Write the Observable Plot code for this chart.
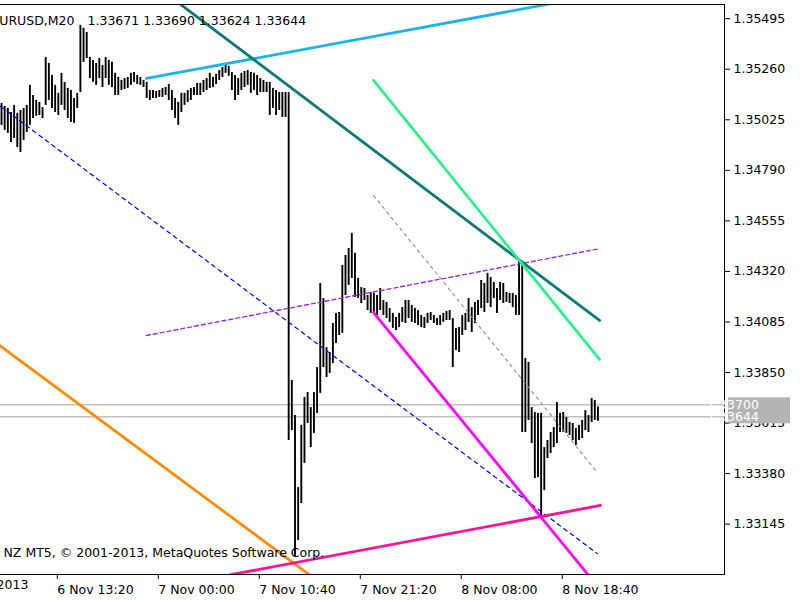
<!DOCTYPE html>
<html><head><meta charset="utf-8">
<script src="https://cdn.jsdelivr.net/npm/d3@7"></script>
<script src="https://cdn.jsdelivr.net/npm/@observablehq/plot@0.6"></script>
<style>body{margin:0;background:#fff;overflow:hidden} svg{display:block}</style>
</head><body><div id="chart"></div><script>
const symbol = "EURUSD,M20";
const lastOHLC = ["1.33671", "1.33690", "1.33624", "1.33644"];
const copyright = "NZ MT5, © 2001-2013, MetaQuotes Software Corp.";

// 20-minute bars, index 0 = 6 Nov 2013 07:20
const highs = [
1.35101,1.35087,1.35078,1.35059,1.35092,1.35055,1.35068,1.35078,1.35092,1.35185,
1.35138,1.35115,1.35106,1.35082,1.35315,1.35287,1.35231,1.35185,1.35148,1.35241,
1.35199,1.35171,1.35161,1.35124,1.35148,1.35464,1.35450,1.35431,1.35315,1.35301,
1.35287,1.35310,1.35278,1.35315,1.35301,1.35292,1.35241,1.35222,1.35208,1.35217,
1.35222,1.35241,1.35245,1.35231,1.35222,1.35208,1.35199,1.35161,1.35161,1.35157,
1.35161,1.35171,1.35175,1.35189,1.35161,1.35124,1.35106,1.35148,1.35148,1.35161,
1.35171,1.35175,1.35194,1.35194,1.35208,1.35217,1.35241,1.35222,1.35236,1.35254,
1.35268,1.35287,1.35273,1.35245,1.35231,1.35217,1.35241,1.35250,1.35254,1.35245,
1.35241,1.35231,1.35217,1.35208,1.35199,1.35199,1.35171,1.35161,1.35152,1.35152,
1.35152,1.35152,1.33813,1.33650,1.33315,1.33604,1.33734,1.33757,1.33687,1.33757,
1.33873,1.34264,1.34194,1.33966,1.33943,1.34078,1.34125,1.34129,1.34348,1.34394,
1.34427,1.34497,1.34404,1.34287,1.34245,1.34241,1.34208,1.34222,1.34218,1.34208,
1.34241,1.34185,1.34176,1.34148,1.34125,1.34106,1.34125,1.34152,1.34185,1.34185,
1.34162,1.34148,1.34138,1.34115,1.34106,1.34125,1.34129,1.34115,1.34101,1.34115,
1.34125,1.34134,1.34138,1.34101,1.34055,1.34059,1.34115,1.34125,1.34194,1.34152,
1.34176,1.34185,1.34278,1.34264,1.34311,1.34292,1.34269,1.34241,1.34269,1.34264,
1.34222,1.34218,1.34218,1.34208,1.34371,1.34348,1.33915,1.33897,1.33687,1.33664,
1.33660,1.33660,1.33501,1.33534,1.33571,1.33594,1.33711,1.33660,1.33664,1.33641,
1.33618,1.33613,1.33590,1.33604,1.33627,1.33673,1.33650,1.33729,1.33720,1.33690];
const lows = [
1.34999,1.34975,1.34962,1.34920,1.34938,1.34896,1.34873,1.34929,1.34966,1.34999,
1.35031,1.35041,1.35045,1.35031,1.35092,1.35115,1.35078,1.35059,1.35045,1.35092,
1.35068,1.35031,1.35013,1.35008,1.35078,1.35152,1.35292,1.35310,1.35217,1.35199,
1.35185,1.35217,1.35175,1.35217,1.35185,1.35175,1.35138,1.35138,1.35161,1.35166,
1.35171,1.35185,1.35199,1.35189,1.35185,1.35175,1.35124,1.35115,1.35124,1.35124,
1.35129,1.35129,1.35138,1.35115,1.35068,1.35031,1.34999,1.35059,1.35092,1.35106,
1.35115,1.35138,1.35138,1.35138,1.35152,1.35161,1.35171,1.35175,1.35189,1.35208,
1.35222,1.35241,1.35227,1.35161,1.35115,1.35138,1.35161,1.35175,1.35185,1.35148,
1.35161,1.35138,1.35152,1.35152,1.35152,1.35045,1.35078,1.35045,1.35068,1.35036,
1.35036,1.33534,1.33580,1.32990,1.33069,1.33241,1.33427,1.33613,1.33501,1.33567,
1.33660,1.33753,1.33873,1.33827,1.33846,1.33892,1.33985,1.34022,1.34032,1.34208,
1.34255,1.34287,1.34199,1.34194,1.34171,1.34185,1.34138,1.34125,1.34129,1.34115,
1.34138,1.34115,1.34101,1.34083,1.34055,1.34045,1.34059,1.34083,1.34078,1.34101,
1.34083,1.34078,1.34069,1.34059,1.34055,1.34078,1.34092,1.34078,1.34069,1.34069,
1.34083,1.34092,1.34092,1.33873,1.33952,1.33943,1.34022,1.34045,1.34083,1.34036,
1.34078,1.34115,1.34148,1.34129,1.34171,1.34152,1.34194,1.34125,1.34185,1.34171,
1.34176,1.34171,1.34152,1.34115,1.34115,1.33571,1.33571,1.33627,1.33520,1.33357,
1.33362,1.33176,1.33301,1.33450,1.33474,1.33501,1.33520,1.33571,1.33571,1.33567,
1.33557,1.33534,1.33511,1.33534,1.33543,1.33580,1.33571,1.33618,1.33627,1.33624];

const priceTicks = [1.35495,1.35260,1.35025,1.34790,1.34555,1.34320,1.34085,1.33850,1.33615,1.33380,1.33145];
const timeTickIndex = [-14, 18, 50, 82, 114, 146, 178];
const timeLabels = ["6 Nov 2013","6 Nov 13:20","7 Nov 00:00","7 Nov 10:40","7 Nov 21:20","8 Nov 08:00","8 Nov 18:40"];
const priceLines = [1.33700, 1.33644];

// trend lines: [bar index, price]
const lineLightBlue = [[45.9, 1.35217], [200, 1.35635]];
const lineTeal      = [[50, 1.35636], [189.5, 1.34092]];
const lineGreen     = [[117.9, 1.35208], [189.5, 1.33911]];
const lineOrange    = [[-0.63, 1.33976], [97.9, 1.32906]];
const linePink      = [[72.6, 1.32910], [189.8, 1.33232]];
const lineMagenta   = [[117.9, 1.34129], [186.6, 1.32897]];
const lineBlueDash  = [[-0.32, 1.35088], [188.8, 1.33008]];
const linePurpleDash= [[45.9, 1.34022], [188.8, 1.34424]];
const lineGrayDash  = [[117.9, 1.34673], [188.8, 1.33385]];

const xDomain = [-0.32, 229.1];
const yDomain = [1.32911, 1.35561];

const bars = highs.map((h, i) => ({i, high: h, low: lows[i]}));
const pts = a => a.map(([i, p]) => ({i, p}));
const FONT = "DejaVu Sans";
const line = (a, stroke, w, dash) => Plot.line(pts(a), {x: "i", y: "p", stroke, strokeWidth: w, strokeDasharray: dash, clip: true});

const chart = Plot.plot({
  width: 800, height: 600,
  marginLeft: 0, marginRight: 76, marginTop: 4, marginBottom: 26,
  x: {domain: xDomain, axis: null, label: null},
  y: {domain: yDomain, axis: null, label: null},
  style: {fontFamily: FONT, fontSize: "12.5px", background: "#fff", color: "#000", overflow: "hidden"},
  marks: [
    Plot.ruleY(priceLines, {stroke: "#c0c0c0", strokeWidth: 1.5}),
    Plot.ruleX(bars, {x: "i", y1: "low", y2: "high", stroke: "#000", strokeWidth: 1.9}),
    line(lineBlueDash, "#0000cd", 1.2, "4,4"),
    line(linePurpleDash, "#9932cc", 1.4, "4,3"),
    line(lineGrayDash, "#8c8c8c", 1.1, "3,4"),
    line(lineLightBlue, "#1cb4f0", 2.8),
    line(lineTeal, "#0a7876", 2.8),
    line(lineGreen, "#2ef08a", 2.8),
    line(lineOrange, "#ff8c00", 2.8),
    line(linePink, "#ff1493", 2.8),
    line(lineMagenta, "#ff00ff", 2.8),
    Plot.frame({anchor: "top", stroke: "#000"}),
    Plot.frame({anchor: "right", stroke: "#000"}),
    Plot.frame({anchor: "bottom", stroke: "#000"}),
    Plot.axisY(priceTicks, {anchor: "right", label: null, tickSize: 5, tickPadding: 4, tickFormat: d => d.toFixed(5), stroke: "#000", fill: "#000"}),
    Plot.axisX(timeTickIndex.slice(1), {anchor: "bottom", label: null, tickSize: 5, tickPadding: 6, textAnchor: "start", dx: -1,
      tickFormat: d => timeLabels[timeTickIndex.indexOf(d)], stroke: "#000", fill: "#000"}),
    Plot.text([timeTickIndex[0]], {x: d => d, text: () => timeLabels[0], frameAnchor: "bottom", textAnchor: "start", dy: 14, dx: -1, fill: "#000"}),
    Plot.text([symbol], {frameAnchor: "top-left", text: d => d, textAnchor: "end", dx: 74, dy: 11.5, fill: "#000"}),
    Plot.text([lastOHLC.join(" ")], {frameAnchor: "top-left", text: d => d, textAnchor: "start", dx: 87, dy: 11.5, fill: "#000"}),
    Plot.text([copyright], {frameAnchor: "bottom-left", text: d => d, textAnchor: "start", dx: 3, dy: -17.5, fill: "#000"})
  ]
});

// price labels on the right axis for the two current price lines
const ys = chart.scale("y");
const svg = d3.select(chart);
const xr = 800 - 76;
priceLines.forEach(p => {
  const y = ys.apply(p);
  svg.append("rect").attr("x", xr + 4).attr("y", y - 7).attr("width", 62).attr("height", 14).attr("fill", "#b4b4b4");
  svg.append("text").attr("x", xr + 9).attr("y", y).attr("dy", "0.35em").attr("fill", "#ffffff")
    .attr("font-family", FONT).attr("font-size", "12.5px").text(p.toFixed(5));
});
document.getElementById("chart").appendChild(chart);
</script></body></html>
